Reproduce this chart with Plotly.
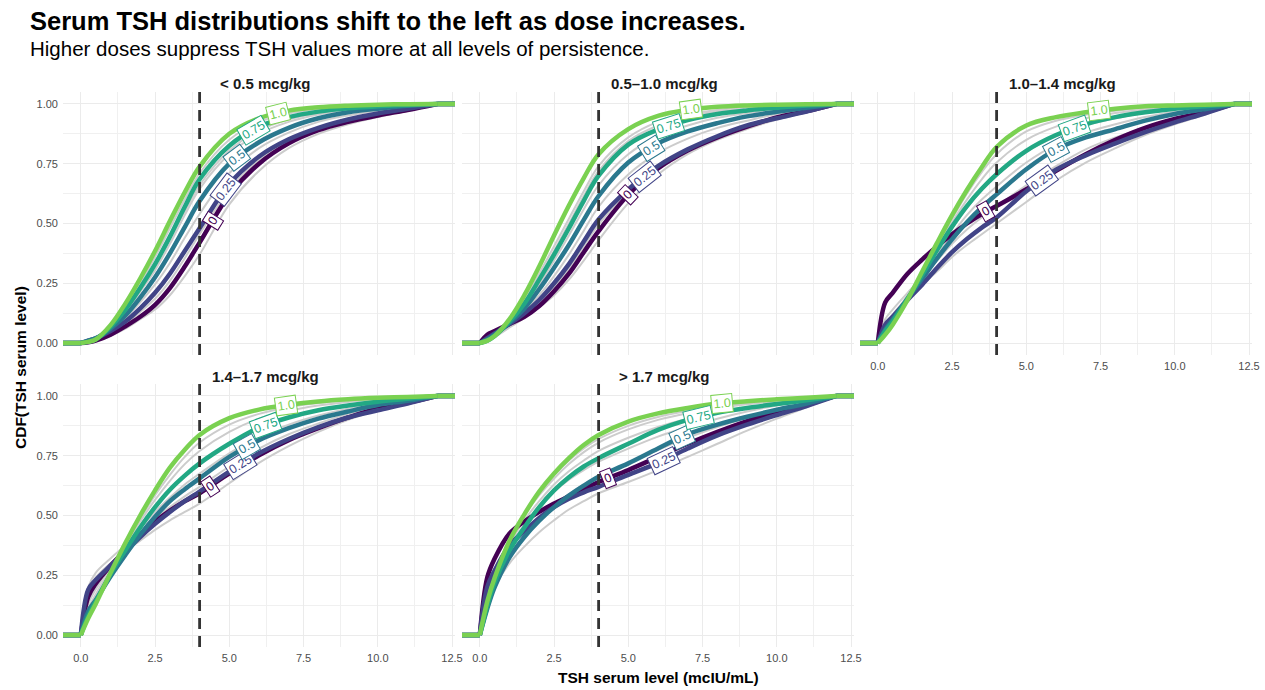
import numpy as np
import plotly.graph_objects as go

# ---------------- data ----------------
X = [0, 0.25, 0.5, 1.0, 1.5, 2.0, 2.5, 3.0, 3.5, 4.0, 5, 6, 7, 8, 9, 10, 11, 12]
X_MIN, X_MAX = -0.6, 12.6
THRESHOLD = 4.0

PANELS = ["< 0.5 mcg/kg", "0.5–1.0 mcg/kg", "1.0–1.4 mcg/kg", "1.4–1.7 mcg/kg", "> 1.7 mcg/kg"]
LEVELS = ["0", "0.25", "0.5", "0.75", "1.0"]
COLORS = ["#440154", "#414487", "#2A788E", "#22A884", "#7AD151"]
GREY = "#CCCCCC"

# panel 1: < 0.5 mcg/kg
p1_000 = [0, 0.003, 0.01, 0.035, 0.07, 0.11, 0.16, 0.23, 0.32, 0.42, 0.62, 0.75, 0.835, 0.89, 0.925, 0.952, 0.975, 1.0]
p1_025 = [0, 0.01, 0.02, 0.05, 0.09, 0.145, 0.21, 0.29, 0.385, 0.48, 0.665, 0.78, 0.852, 0.9, 0.935, 0.96, 0.98, 1.0]
p1_050 = [0, 0.01, 0.02, 0.06, 0.115, 0.19, 0.275, 0.375, 0.485, 0.594, 0.75, 0.84, 0.9, 0.94, 0.965, 0.98, 0.992, 1.0]
p1_075 = [0, 0.005, 0.015, 0.068, 0.14, 0.23, 0.33, 0.445, 0.57, 0.685, 0.825, 0.905, 0.945, 0.968, 0.982, 0.99, 0.996, 1.0]
p1_100 = [0, 0.005, 0.015, 0.075, 0.165, 0.27, 0.385, 0.51, 0.63, 0.738, 0.875, 0.94, 0.972, 0.986, 0.993, 0.997, 0.999, 1.0]
p1_grey = [
    [0, 0.002, 0.008, 0.03, 0.06, 0.1, 0.14, 0.2, 0.28, 0.37, 0.58, 0.72, 0.815, 0.875, 0.915, 0.945, 0.97, 1.0],
    [0, 0.005, 0.015, 0.045, 0.08, 0.13, 0.185, 0.26, 0.355, 0.455, 0.64, 0.765, 0.845, 0.895, 0.93, 0.957, 0.978, 1.0],
    [0, 0.008, 0.02, 0.055, 0.105, 0.17, 0.245, 0.335, 0.44, 0.54, 0.71, 0.815, 0.88, 0.925, 0.952, 0.972, 0.988, 1.0],
    [0, 0.008, 0.018, 0.065, 0.13, 0.215, 0.305, 0.415, 0.535, 0.645, 0.79, 0.875, 0.925, 0.956, 0.975, 0.986, 0.994, 1.0],
    [0, 0.007, 0.017, 0.068, 0.138, 0.23, 0.325, 0.435, 0.55, 0.66, 0.805, 0.89, 0.935, 0.962, 0.978, 0.988, 0.995, 1.0],
    [0, 0.006, 0.016, 0.072, 0.15, 0.25, 0.36, 0.48, 0.6, 0.71, 0.85, 0.925, 0.96, 0.978, 0.988, 0.994, 0.998, 1.0],
]

# panel 2: 0.5-1.0 mcg/kg
p2_000 = [0, 0.035, 0.05, 0.08, 0.11, 0.155, 0.217, 0.29, 0.38, 0.468, 0.62, 0.73, 0.805, 0.86, 0.905, 0.944, 0.97, 1.0]
p2_025 = [0, 0.02, 0.04, 0.08, 0.125, 0.18, 0.25, 0.33, 0.425, 0.517, 0.643, 0.74, 0.81, 0.865, 0.91, 0.94, 0.968, 1.0]
p2_050 = [0, 0.015, 0.035, 0.085, 0.145, 0.225, 0.315, 0.41, 0.515, 0.615, 0.755, 0.835, 0.885, 0.92, 0.948, 0.967, 0.984, 1.0]
p2_075 = [0, 0.01, 0.03, 0.09, 0.165, 0.265, 0.37, 0.48, 0.595, 0.70, 0.83, 0.893, 0.933, 0.958, 0.973, 0.984, 0.993, 1.0]
p2_100 = [0, 0.01, 0.03, 0.1, 0.2, 0.32, 0.45, 0.575, 0.69, 0.79, 0.895, 0.95, 0.975, 0.988, 0.994, 0.997, 0.999, 1.0]
p2_grey = [
    [0, 0.01, 0.025, 0.065, 0.105, 0.15, 0.2, 0.265, 0.345, 0.43, 0.585, 0.705, 0.79, 0.85, 0.895, 0.935, 0.965, 1.0],
    [0, 0.015, 0.03, 0.075, 0.12, 0.17, 0.235, 0.31, 0.405, 0.495, 0.635, 0.735, 0.81, 0.865, 0.905, 0.94, 0.968, 1.0],
    [0, 0.012, 0.03, 0.08, 0.135, 0.2, 0.28, 0.37, 0.47, 0.57, 0.705, 0.795, 0.855, 0.9, 0.93, 0.958, 0.978, 1.0],
    [0, 0.01, 0.03, 0.085, 0.155, 0.245, 0.345, 0.45, 0.56, 0.66, 0.79, 0.865, 0.91, 0.942, 0.962, 0.977, 0.99, 1.0],
    [0, 0.01, 0.03, 0.09, 0.17, 0.275, 0.385, 0.5, 0.615, 0.72, 0.845, 0.91, 0.948, 0.968, 0.98, 0.99, 0.996, 1.0],
    [0, 0.01, 0.03, 0.095, 0.18, 0.29, 0.405, 0.52, 0.635, 0.74, 0.86, 0.925, 0.957, 0.975, 0.986, 0.992, 0.997, 1.0],
]

# panel 3: 1.0-1.4 mcg/kg
p3_000 = [0, 0.17, 0.21, 0.29, 0.35, 0.405, 0.455, 0.5, 0.54, 0.573, 0.643, 0.72, 0.79, 0.85, 0.9, 0.937, 0.965, 1.0]
p3_025 = [0, 0.077, 0.11, 0.18, 0.245, 0.315, 0.38, 0.435, 0.483, 0.525, 0.635, 0.725, 0.785, 0.835, 0.882, 0.923, 0.96, 1.0]
p3_050 = [0, 0.056, 0.098, 0.185, 0.27, 0.355, 0.434, 0.505, 0.567, 0.622, 0.727, 0.81, 0.86, 0.895, 0.93, 0.958, 0.978, 1.0]
p3_075 = [0, 0.05, 0.09, 0.185, 0.285, 0.39, 0.487, 0.573, 0.645, 0.706, 0.804, 0.87, 0.915, 0.945, 0.965, 0.98, 0.99, 1.0]
p3_100 = [0, 0.035, 0.077, 0.18, 0.30, 0.42, 0.535, 0.64, 0.735, 0.82, 0.91, 0.945, 0.965, 0.98, 0.99, 0.994, 0.997, 1.0]
p3_grey = [
    [0, 0.08, 0.12, 0.19, 0.245, 0.3, 0.36, 0.41, 0.455, 0.5, 0.59, 0.68, 0.755, 0.815, 0.87, 0.915, 0.955, 1.0],
    [0, 0.1, 0.14, 0.21, 0.275, 0.345, 0.415, 0.475, 0.525, 0.57, 0.66, 0.74, 0.81, 0.86, 0.9, 0.935, 0.968, 1.0],
    [0, 0.07, 0.11, 0.2, 0.285, 0.37, 0.455, 0.535, 0.6, 0.655, 0.755, 0.83, 0.88, 0.915, 0.945, 0.967, 0.985, 1.0],
    [0, 0.06, 0.1, 0.2, 0.29, 0.385, 0.48, 0.565, 0.64, 0.7, 0.8, 0.865, 0.91, 0.94, 0.962, 0.978, 0.99, 1.0],
    [0, 0.05, 0.09, 0.19, 0.29, 0.4, 0.505, 0.6, 0.685, 0.755, 0.85, 0.905, 0.94, 0.962, 0.977, 0.987, 0.995, 1.0],
    [0, 0.04, 0.085, 0.185, 0.295, 0.41, 0.52, 0.625, 0.715, 0.79, 0.885, 0.93, 0.955, 0.972, 0.984, 0.992, 0.997, 1.0],
]

# panel 4: 1.4-1.7 mcg/kg
p4_000 = [0, 0.16, 0.215, 0.29, 0.355, 0.42, 0.474, 0.52, 0.56, 0.593, 0.676, 0.752, 0.815, 0.865, 0.91, 0.948, 0.972, 1.0]
p4_025 = [0, 0.19, 0.23, 0.29, 0.35, 0.41, 0.465, 0.515, 0.56, 0.6, 0.683, 0.76, 0.82, 0.87, 0.91, 0.94, 0.968, 1.0]
p4_050 = [0, 0.1, 0.146, 0.245, 0.335, 0.42, 0.495, 0.56, 0.61, 0.655, 0.745, 0.815, 0.865, 0.905, 0.935, 0.962, 0.98, 1.0]
p4_075 = [0, 0.08, 0.14, 0.255, 0.355, 0.45, 0.535, 0.608, 0.667, 0.718, 0.80, 0.868, 0.91, 0.94, 0.96, 0.976, 0.988, 1.0]
p4_100 = [0, 0.07, 0.13, 0.26, 0.385, 0.5, 0.605, 0.7, 0.775, 0.837, 0.907, 0.943, 0.963, 0.977, 0.986, 0.992, 0.996, 1.0]
p4_grey = [
    [0, 0.18, 0.24, 0.3, 0.35, 0.395, 0.44, 0.48, 0.515, 0.55, 0.635, 0.72, 0.79, 0.85, 0.9, 0.94, 0.968, 1.0],
    [0, 0.2, 0.26, 0.32, 0.375, 0.43, 0.485, 0.535, 0.58, 0.62, 0.705, 0.78, 0.84, 0.885, 0.925, 0.955, 0.978, 1.0],
    [0, 0.15, 0.2, 0.29, 0.37, 0.445, 0.515, 0.575, 0.63, 0.675, 0.76, 0.83, 0.88, 0.918, 0.947, 0.968, 0.985, 1.0],
    [0, 0.13, 0.19, 0.285, 0.375, 0.46, 0.54, 0.61, 0.665, 0.715, 0.8, 0.865, 0.91, 0.94, 0.962, 0.978, 0.99, 1.0],
    [0, 0.11, 0.17, 0.275, 0.375, 0.475, 0.565, 0.645, 0.715, 0.77, 0.85, 0.905, 0.938, 0.96, 0.975, 0.986, 0.994, 1.0],
    [0, 0.1, 0.16, 0.27, 0.38, 0.485, 0.585, 0.67, 0.745, 0.805, 0.88, 0.925, 0.953, 0.97, 0.982, 0.99, 0.996, 1.0],
]

# panel 5: > 1.7 mcg/kg
p5_000 = [0, 0.24, 0.32, 0.425, 0.475, 0.515, 0.55, 0.58, 0.61, 0.64, 0.69, 0.745, 0.8, 0.85, 0.895, 0.935, 0.965, 1.0]
p5_025 = [0, 0.2, 0.27, 0.375, 0.435, 0.49, 0.535, 0.57, 0.597, 0.62, 0.67, 0.72, 0.78, 0.835, 0.88, 0.92, 0.958, 1.0]
p5_050 = [0, 0.11, 0.2, 0.325, 0.41, 0.478, 0.535, 0.583, 0.625, 0.662, 0.718, 0.78, 0.84, 0.88, 0.913, 0.942, 0.968, 1.0]
p5_075 = [0, 0.12, 0.22, 0.355, 0.45, 0.535, 0.605, 0.66, 0.705, 0.74, 0.80, 0.858, 0.9, 0.93, 0.95, 0.966, 0.982, 1.0]
p5_100 = [0, 0.14, 0.24, 0.395, 0.505, 0.6, 0.676, 0.74, 0.795, 0.837, 0.893, 0.927, 0.95, 0.968, 0.978, 0.986, 0.993, 1.0]
p5_grey = [
    [0, 0.12, 0.2, 0.3, 0.37, 0.43, 0.48, 0.525, 0.56, 0.593, 0.64, 0.69, 0.745, 0.8, 0.855, 0.905, 0.952, 1.0],
    [0, 0.18, 0.25, 0.36, 0.43, 0.49, 0.545, 0.59, 0.63, 0.665, 0.72, 0.775, 0.825, 0.87, 0.91, 0.945, 0.972, 1.0],
    [0, 0.16, 0.24, 0.37, 0.46, 0.535, 0.6, 0.65, 0.69, 0.725, 0.78, 0.83, 0.87, 0.905, 0.935, 0.96, 0.98, 1.0],
    [0, 0.15, 0.24, 0.38, 0.48, 0.56, 0.63, 0.685, 0.73, 0.77, 0.825, 0.87, 0.905, 0.93, 0.952, 0.97, 0.985, 1.0],
    [0, 0.14, 0.24, 0.39, 0.5, 0.585, 0.655, 0.715, 0.765, 0.805, 0.86, 0.9, 0.928, 0.948, 0.965, 0.978, 0.99, 1.0],
    [0, 0.15, 0.25, 0.4, 0.51, 0.6, 0.67, 0.73, 0.78, 0.82, 0.875, 0.912, 0.937, 0.955, 0.968, 0.98, 0.99, 1.0],
]

# x positions of the in-line level labels, per panel (levels 0 .. 1.0)
label_x_p1 = [4.46, 4.88, 5.27, 5.8, 6.65]
label_x_p2 = [5.0, 5.56, 5.76, 6.34, 7.1]
label_x_p3 = [3.63, 5.52, 6.0, 6.62, 7.45]
label_x_p4 = [4.36, 5.38, 5.6, 6.22, 6.92]
label_x_p5 = [4.3, 6.2, 6.8, 7.37, 8.16]

colored = [
    [p1_000, p1_025, p1_050, p1_075, p1_100],
    [p2_000, p2_025, p2_050, p2_075, p2_100],
    [p3_000, p3_025, p3_050, p3_075, p3_100],
    [p4_000, p4_025, p4_050, p4_075, p4_100],
    [p5_000, p5_025, p5_050, p5_075, p5_100],
]
greys = [p1_grey, p2_grey, p3_grey, p4_grey, p5_grey]
label_xs = [label_x_p1, label_x_p2, label_x_p3, label_x_p4, label_x_p5]

# ---------------- layout geometry (pixels) ----------------
W, H = 1265, 690
COLS = [(63, 455), (462, 854), (860, 1252)]
ROWS = [(92, 355), (384, 647)]
Y_RANGE = [-0.05, 1.05]
FONT = "Liberation Sans, Arial, sans-serif"

panel_pos = [(0, 0), (0, 1), (0, 2), (1, 0), (1, 1)]

fig = go.Figure()


def ax_names(i):
    s = "" if i == 0 else str(i + 1)
    return "x" + s, "y" + s


def seg(vals):
    xs = [X_MIN, X[0], None] + X + [None, X[-1], X_MAX]
    ys = [0, 0, None] + vals + [None, 1, 1]
    return xs, ys


for i in range(5):
    xa, ya = ax_names(i)
    for g in greys[i]:
        xs, ys = seg(g)
        fig.add_trace(go.Scatter(x=xs, y=ys, mode="lines", xaxis=xa, yaxis=ya,
                                 line=dict(color=GREY, width=2, shape="spline", smoothing=1.0),
                                 hoverinfo="skip", showlegend=False))
for i in range(5):
    xa, ya = ax_names(i)
    for k, vals in enumerate(colored[i]):
        xs, ys = seg(vals)
        fig.add_trace(go.Scatter(x=xs, y=ys, mode="lines", xaxis=xa, yaxis=ya,
                                 line=dict(color=COLORS[k], width=4.5, shape="spline", smoothing=1.0),
                                 hoverinfo="skip", showlegend=False))

layout = dict(width=W, height=H, autosize=False, margin=dict(l=0, r=0, t=0, b=0, pad=0),
              paper_bgcolor="white", plot_bgcolor="white", showlegend=False,
              font=dict(family=FONT))

px_per_x = (COLS[0][1] - COLS[0][0]) / (X_MAX - X_MIN)
px_per_y = (ROWS[0][1] - ROWS[0][0]) / (Y_RANGE[1] - Y_RANGE[0])

annotations = []
shapes = []
for i, (r, c) in enumerate(panel_pos):
    xa, ya = ax_names(i)
    xkey = "xaxis" if i == 0 else "xaxis%d" % (i + 1)
    ykey = "yaxis" if i == 0 else "yaxis%d" % (i + 1)
    x0, x1 = COLS[c]
    y0, y1 = ROWS[r]
    show_x = (r == 1) or (i == 2)
    show_y = (c == 0)
    layout[xkey] = dict(domain=[x0 / W, x1 / W], range=[X_MIN, X_MAX], anchor=ya,
                        tickvals=[0, 2.5, 5, 7.5, 10, 12.5],
                        ticktext=["0.0", "2.5", "5.0", "7.5", "10.0", "12.5"],
                        showticklabels=show_x, showline=False, zeroline=False, ticks="",
                        gridcolor="#EBEBEB", gridwidth=1.1,
                        minor=dict(dtick=1.25, tick0=0, showgrid=True, gridcolor="#F0F0F0", gridwidth=0.9),
                        tickfont=dict(size=11, color="#4D4D4D", family=FONT),
                        ticklabelstandoff=3, fixedrange=True, automargin=False)
    layout[ykey] = dict(domain=[1 - y1 / H, 1 - y0 / H], range=Y_RANGE, anchor=xa,
                        tickvals=[0, 0.25, 0.5, 0.75, 1.0],
                        ticktext=["0.00", "0.25", "0.50", "0.75", "1.00"],
                        showticklabels=show_y, showline=False, zeroline=False, ticks="",
                        gridcolor="#EBEBEB", gridwidth=1.1,
                        minor=dict(dtick=0.125, tick0=0, showgrid=True, gridcolor="#F0F0F0", gridwidth=0.9),
                        tickfont=dict(size=11, color="#4D4D4D", family=FONT),
                        ticklabelstandoff=4, fixedrange=True, automargin=False)
    # strip title
    annotations.append(dict(text="<b>%s</b>" % PANELS[i], xref="paper", yref="paper",
                            x=((x0 + x1) / 2 + 6) / W, y=1 - (y0 - 8) / H, showarrow=False,
                            xanchor="center", yanchor="middle",
                            font=dict(size=15, color="#1A1A1A", family=FONT)))
    # threshold line
    shapes.append(dict(type="line", xref=xa, yref=ya + " domain", x0=THRESHOLD, x1=THRESHOLD,
                       y0=0, y1=1, line=dict(color="#333333", width=2.8, dash="11px,7px"), layer="above"))
    # level labels on the curves
    for k, vals in enumerate(colored[i]):
        lx = label_xs[i][k]
        ly = float(np.interp(lx, X, vals))
        slope = (np.interp(lx + 0.3, X, vals) - np.interp(lx - 0.3, X, vals)) / 0.6
        angle = -np.degrees(np.arctan(slope * px_per_y / px_per_x))
        annotations.append(dict(text=LEVELS[k], xref=xa, yref=ya, x=lx, y=ly, showarrow=False,
                                xanchor="center", yanchor="middle", textangle=float(angle),
                                font=dict(size=12.5, color=COLORS[k], family=FONT),
                                bgcolor="white", bordercolor=COLORS[k], borderwidth=1, borderpad=1.5))

# titles
annotations.append(dict(text="<b>Serum TSH distributions shift to the left as dose increases.</b>",
                        xref="paper", yref="paper", x=28 / W, y=1 - 21 / H, xanchor="left", yanchor="middle",
                        showarrow=False, font=dict(size=25.5, color="black", family=FONT)))
annotations.append(dict(text="Higher doses suppress TSH values more at all levels of persistence.",
                        xref="paper", yref="paper", x=28 / W, y=1 - 48 / H, xanchor="left", yanchor="middle",
                        showarrow=False, font=dict(size=20.5, color="black", family=FONT)))
annotations.append(dict(text="<b>CDF(TSH serum level)</b>", xref="paper", yref="paper",
                        x=20 / W, y=1 - 368 / H, xanchor="center", yanchor="middle", textangle=-90,
                        showarrow=False, font=dict(size=15.5, color="black", family=FONT)))
annotations.append(dict(text="<b>TSH serum level (mcIU/mL)</b>", xref="paper", yref="paper",
                        x=658 / W, y=1 - 677 / H, xanchor="center", yanchor="middle",
                        showarrow=False, font=dict(size=15.5, color="black", family=FONT)))

layout["annotations"] = annotations
layout["shapes"] = shapes
fig.update_layout(**layout)
fig.write_html("out.html",
               config={"displayModeBar": False, "responsive": False},
               post_script="document.documentElement.style.margin='0px';document.body.style.margin='0px';"
                           "document.documentElement.style.overflow='hidden';document.body.style.overflow='hidden';")
